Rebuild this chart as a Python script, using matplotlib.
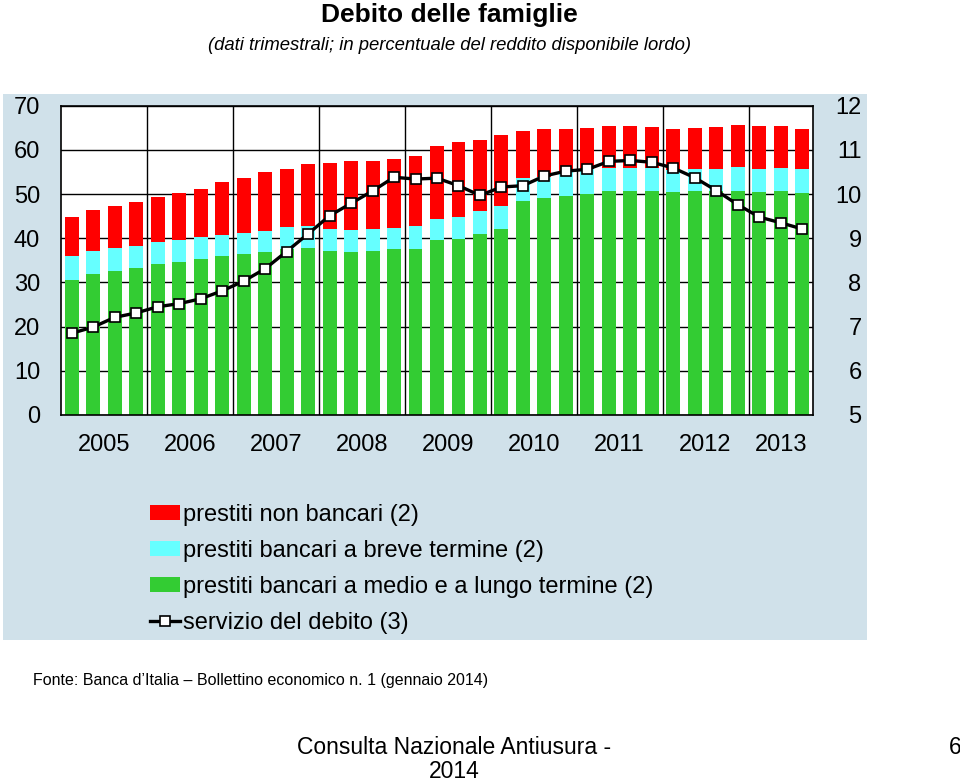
import matplotlib
matplotlib.use("Agg")
import matplotlib.pyplot as plt
from matplotlib.patches import Rectangle, Patch
from matplotlib.lines import Line2D
import numpy as np

plt.rcParams['font.family'] = ['Liberation Sans', 'DejaVu Sans']

years = ['2005', '2006', '2007', '2008', '2009', '2010', '2011', '2012', '2013']

# medium/long-term bank loans (cumulative base level), % of disposable income
medio_lungo = [30.6, 32.0, 32.7, 33.3, 34.2, 34.6, 35.2, 35.9,
               36.4, 36.8, 37.5, 37.8, 37.2, 36.8, 37.2, 37.5,
               37.6, 39.5, 39.9, 40.9, 42.1, 48.5, 49.1, 49.6,
               50.1, 50.6, 50.6, 50.6, 50.4, 50.6, 50.6, 50.8,
               50.4, 50.6, 50.3]
# top of short-term bank loans segment
breve_top = [35.9, 37.2, 37.9, 38.3, 39.1, 39.6, 40.2, 40.8,
             41.2, 41.6, 42.5, 42.7, 42.1, 41.8, 42.0, 42.3,
             42.8, 44.3, 44.9, 46.1, 47.2, 53.7, 53.9, 54.9,
             55.7, 55.8, 55.8, 55.8, 55.5, 55.7, 55.7, 56.2,
             55.7, 55.8, 55.7]
# total debt (top of non-bank loans segment)
totale = [44.8, 46.3, 47.3, 48.1, 49.3, 50.3, 51.1, 52.8,
          53.7, 55.0, 55.7, 56.8, 57.1, 57.5, 57.5, 58.0,
          58.7, 60.8, 61.7, 62.3, 63.4, 64.2, 64.7, 64.8,
          64.9, 65.5, 65.5, 65.1, 64.7, 64.9, 65.1, 65.7,
          65.3, 65.3, 64.8]
# debt service (right axis)
servizio = [6.85, 6.99, 7.21, 7.31, 7.45, 7.52, 7.63, 7.81,
            8.03, 8.31, 8.70, 9.10, 9.51, 9.79, 10.07, 10.38,
            10.34, 10.36, 10.19, 9.97, 10.16, 10.19, 10.41, 10.52,
            10.56, 10.74, 10.76, 10.72, 10.59, 10.37, 10.08, 9.76,
            9.48, 9.35, 9.21]

labels = ['prestiti non bancari (2)',
          'prestiti bancari a breve termine (2)',
          'prestiti bancari a medio e a lungo termine (2)',
          'servizio del debito (3)']

RED = '#ff0000'
CYAN = '#66ffff'
GREEN = '#33cc33'
PANEL = '#d0e1ea'

n = len(totale)
x = np.arange(n)
medio = np.array(medio_lungo)
breve = np.array(breve_top) - medio
nonb = np.array(totale) - np.array(breve_top)

W, H = 960, 783
fig = plt.figure(figsize=(W / 100, H / 100), dpi=100)
fig.patch.set_facecolor('white')

# light-blue panel behind the chart
fig.add_artist(Rectangle((3 / W, 1 - 640 / H), (867 - 3) / W, (640 - 94) / H,
                         transform=fig.transFigure, facecolor=PANEL,
                         edgecolor='none', zorder=0))

ax = fig.add_axes([61 / W, 1 - 415 / H, (813 - 61) / W, (415 - 105.7) / H])
ax.set_facecolor('white')
bw = 0.65
ax.bar(x, medio, width=bw, color=GREEN, zorder=2)
ax.bar(x, breve, bottom=medio, width=bw, color=CYAN, zorder=2)
ax.bar(x, nonb, bottom=np.array(breve_top), width=bw, color=RED, zorder=2)
ax.set_xlim(-0.5, n - 0.5)
ax.set_ylim(0, 70)
ax.set_yticks(np.arange(0, 71, 10))
ax.tick_params(axis='y', length=0, pad=15, labelsize=17)
# year boundaries (major, for grid) and year centres (minor, for labels)
bounds = np.arange(4, n, 4) - 0.5
ax.set_xticks(bounds)
ax.set_xticklabels([])
centres = [i * 4 + 1.5 if i < 8 else (32 + n - 1) / 2 for i in range(len(years))]
ax.set_xticks(centres, minor=True)
ax.set_xticklabels(years, minor=True)
ax.tick_params(axis='x', which='both', length=0)
ax.tick_params(axis='x', which='minor', pad=14, labelsize=17)
ax.grid(True, which='major', color='black', linewidth=1.0)
for s in ax.spines.values():
    s.set_color('black')
    s.set_linewidth(1.2)
ax.set_axisbelow(True)

ax2 = ax.twinx()
ax2.plot(x, servizio, color='black', linewidth=2.4, marker='s', markersize=6.5,
         markerfacecolor='white', markeredgecolor='black', markeredgewidth=1.2,
         zorder=5)
ax2.set_ylim(5, 12)
ax2.set_yticks(np.arange(5, 13, 1))
ax2.tick_params(axis='y', length=0, pad=35, labelsize=17)
for lab in ax2.get_yticklabels():
    lab.set_horizontalalignment('right')
for s in ax2.spines.values():
    s.set_visible(False)

handles = [Patch(facecolor=RED, edgecolor='none'),
           Patch(facecolor=CYAN, edgecolor='none'),
           Patch(facecolor=GREEN, edgecolor='none'),
           Line2D([], [], color='black', linewidth=2.4, marker='s', markersize=6.5,
                  markerfacecolor='white', markeredgecolor='black', markeredgewidth=1.2)]
fig.legend(handles, labels, loc='upper left', bbox_to_anchor=(133 / W, 1 - 487 / H),
           frameon=False, fontsize=17, handlelength=1.27, handleheight=0.6,
           handletextpad=0.13, labelspacing=0.6, borderpad=0.2)

fig.text(449 / W, 1 - 15 / H, 'Debito delle famiglie', ha='center', va='center',
         fontsize=19, fontweight='bold')
fig.text(449 / W, 1 - 45 / H,
         '(dati trimestrali; in percentuale del reddito disponibile lordo)',
         ha='center', va='center', fontsize=13.3, style='italic')
fig.text(33 / W, 1 - 680 / H,
         'Fonte: Banca d\u2019Italia \u2013 Bollettino economico n. 1 (gennaio 2014)',
         ha='left', va='center', fontsize=11.5)
fig.text(454 / W, 1 - 747 / H, 'Consulta Nazionale Antiusura -', ha='center',
         va='center', fontsize=16.5)
fig.text(454 / W, 1 - 772 / H, '2014', ha='center', va='center', fontsize=16.5)
fig.text(955 / W, 1 - 747 / H, '6', ha='center', va='center', fontsize=16.5)

fig.savefig('out.png', dpi=100)
